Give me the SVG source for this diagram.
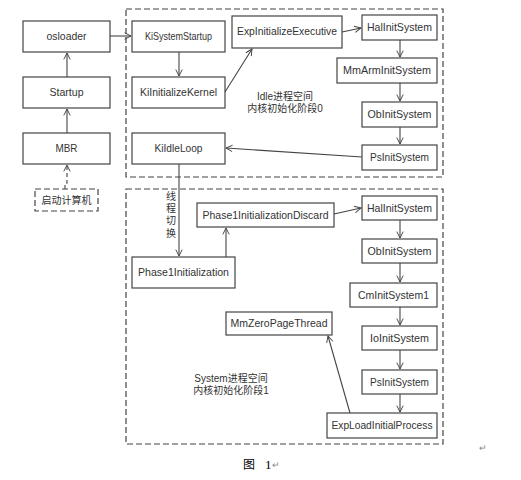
<svg xmlns="http://www.w3.org/2000/svg" width="521" height="480" viewBox="0 0 521 480">
<defs>
<marker id="arr" viewBox="0 0 10 10" refX="9" refY="5" markerWidth="8" markerHeight="8" markerUnits="userSpaceOnUse" orient="auto">
<path d="M1,1 L9,5 L1,9" fill="none" stroke="#444" stroke-width="1.2"/>
</marker>
<style>
.box{fill:#fff;stroke:#444;stroke-width:1.2}
.dbox{fill:none;stroke:#444;stroke-width:1.2;stroke-dasharray:6 3}
.t{font-family:"Liberation Sans","Noto Sans CJK SC",sans-serif;font-size:11px;fill:#333;text-anchor:middle}
.c{font-family:"Noto Sans CJK SC","Liberation Sans",sans-serif;font-size:10px;fill:#333}
.lb{font-family:"Liberation Sans","Noto Sans CJK SC",sans-serif;font-size:10px;fill:#333;text-anchor:middle}
.ln{fill:none;stroke:#444;stroke-width:1.1;marker-end:url(#arr)}
.dl{fill:none;stroke:#444;stroke-width:1.1;stroke-dasharray:4 3;marker-end:url(#arr)}
.pm{font-family:"Liberation Sans",sans-serif;font-size:9px;fill:#888}
</style>
</defs>
<rect width="521" height="480" fill="#fff"/>
<g id="regions">
<rect id="region0" class="dbox" x="126" y="9" width="317" height="168"/>
<rect id="region1" class="dbox" x="126" y="189" width="317" height="255"/>
<text class="lb" x="285" y="100">Idle进程空间</text>
<text class="lb" x="285" y="112">内核初始化阶段0</text>
<text class="lb" x="231" y="382">System进程空间</text>
<text class="lb" x="231" y="394">内核初始化阶段1</text>
</g>
<g id="connectors">
<line class="ln" x1="67" y1="133" x2="67" y2="109"/>
<line class="ln" x1="67" y1="77" x2="67" y2="53"/>
<path class="dl" d="M65,189 V183 H67 V165"/>
<line class="ln" x1="110" y1="36" x2="131" y2="36"/>
<line class="ln" x1="179" y1="52" x2="179" y2="76"/>
<line class="ln" x1="225" y1="92" x2="252" y2="49"/>
<line class="ln" x1="342" y1="32" x2="361" y2="28"/>
<line class="ln" x1="400" y1="40" x2="400" y2="57"/>
<line class="ln" x1="400" y1="83" x2="400" y2="101"/>
<line class="ln" x1="400" y1="127" x2="400" y2="144"/>
<line class="ln" x1="362" y1="157" x2="226" y2="148"/>
<line class="ln" x1="179" y1="164" x2="179" y2="256"/>
<line class="ln" x1="226" y1="257" x2="226" y2="228"/>
<line class="ln" x1="334" y1="214" x2="361" y2="208"/>
<line class="ln" x1="400" y1="220" x2="400" y2="238"/>
<line class="ln" x1="400" y1="263" x2="400" y2="282"/>
<line class="ln" x1="400" y1="307" x2="400" y2="325"/>
<line class="ln" x1="400" y1="350" x2="400" y2="369"/>
<line class="ln" x1="400" y1="394" x2="400" y2="412"/>
<line class="ln" x1="350" y1="413" x2="328" y2="336"/>
<text class="c" x="171" y="191" writing-mode="tb" letter-spacing="2.3">线程切换</text>
</g>
<g id="osloader"><rect class="box" x="23" y="21" width="87" height="31"/><text class="t" x="66.5" y="40" textLength="40" lengthAdjust="spacingAndGlyphs">osloader</text></g>
<g id="startup"><rect class="box" x="23" y="77" width="87" height="31"/><text class="t" x="66.5" y="96" textLength="34" lengthAdjust="spacingAndGlyphs">Startup</text></g>
<g id="mbr"><rect class="box" x="23" y="133" width="87" height="31"/><text class="t" x="66.5" y="152" textLength="22" lengthAdjust="spacingAndGlyphs">MBR</text></g>
<g id="boot"><rect class="dbox" x="35" y="189" width="63" height="22"/><text class="c" x="66.5" y="204" text-anchor="middle">启动计算机</text></g>
<g id="kisystemstartup"><rect class="box" x="132" y="21" width="93" height="31"/><text class="t" x="178.5" y="40" textLength="67" lengthAdjust="spacingAndGlyphs">KiSystemStartup</text></g>
<g id="kiinitializekernel"><rect class="box" x="132" y="77" width="93" height="31"/><text class="t" x="178.5" y="96" textLength="77" lengthAdjust="spacingAndGlyphs">KiInitializeKernel</text></g>
<g id="kiidleloop"><rect class="box" x="132" y="133" width="93" height="31"/><text class="t" x="178.5" y="152" textLength="48" lengthAdjust="spacingAndGlyphs">KiIdleLoop</text></g>
<g id="expinitializeexecutive"><rect class="box" x="232" y="16" width="110" height="32"/><text class="t" x="287" y="35" textLength="100" lengthAdjust="spacingAndGlyphs">ExpInitializeExecutive</text></g>
<g id="halinitsystem0"><rect class="box" x="362" y="15" width="75" height="25"/><text class="t" x="399.5" y="31" textLength="65" lengthAdjust="spacingAndGlyphs">HalInitSystem</text></g>
<g id="mmarminitsystem"><rect class="box" x="337" y="58" width="100" height="25"/><text class="t" x="387" y="74" textLength="88" lengthAdjust="spacingAndGlyphs">MmArmInitSystem</text></g>
<g id="obinitsystem0"><rect class="box" x="362" y="102" width="75" height="25"/><text class="t" x="399.5" y="118" textLength="64" lengthAdjust="spacingAndGlyphs">ObInitSystem</text></g>
<g id="psinitsystem0"><rect class="box" x="362" y="145" width="75" height="25"/><text class="t" x="399.5" y="161" textLength="59" lengthAdjust="spacingAndGlyphs">PsInitSystem</text></g>
<g id="phase1initialization"><rect class="box" x="132" y="257" width="103" height="31"/><text class="t" x="183.5" y="276" textLength="91" lengthAdjust="spacingAndGlyphs">Phase1Initialization</text></g>
<g id="phase1initializationdiscard"><rect class="box" x="197" y="203" width="137" height="24"/><text class="t" x="265.5" y="219" textLength="126" lengthAdjust="spacingAndGlyphs">Phase1InitializationDiscard</text></g>
<g id="halinitsystem1"><rect class="box" x="362" y="196" width="75" height="24"/><text class="t" x="399.5" y="212" textLength="65" lengthAdjust="spacingAndGlyphs">HalInitSystem</text></g>
<g id="obinitsystem1"><rect class="box" x="362" y="239" width="75" height="24"/><text class="t" x="399.5" y="255" textLength="64" lengthAdjust="spacingAndGlyphs">ObInitSystem</text></g>
<g id="cminitsystem1"><rect class="box" x="350" y="283" width="87" height="24"/><text class="t" x="393.5" y="299" textLength="71" lengthAdjust="spacingAndGlyphs">CmInitSystem1</text></g>
<g id="ioinitsystem"><rect class="box" x="362" y="326" width="75" height="24"/><text class="t" x="399.5" y="342" textLength="59" lengthAdjust="spacingAndGlyphs">IoInitSystem</text></g>
<g id="psinitsystem1"><rect class="box" x="362" y="370" width="75" height="24"/><text class="t" x="399.5" y="386" textLength="59" lengthAdjust="spacingAndGlyphs">PsInitSystem</text></g>
<g id="exploadinitialprocess"><rect class="box" x="327" y="413" width="110" height="25"/><text class="t" x="382" y="429" textLength="101" lengthAdjust="spacingAndGlyphs">ExpLoadInitialProcess</text></g>
<g id="mmzeropagethread"><rect class="box" x="226" y="312" width="106" height="23"/><text class="t" x="279" y="327" textLength="97" lengthAdjust="spacingAndGlyphs">MmZeroPageThread</text></g>
<g id="caption">
<text x="243" y="469" style="font-family:'Noto Sans CJK SC',sans-serif;font-size:12px;fill:#000">图</text>
<text x="265" y="469" style="font-family:'Liberation Serif',serif;font-size:13px;fill:#000">1</text>
<text class="pm" x="272" y="468">↵</text>
<text class="pm" x="479" y="451">↵</text>
</g>
</svg>
